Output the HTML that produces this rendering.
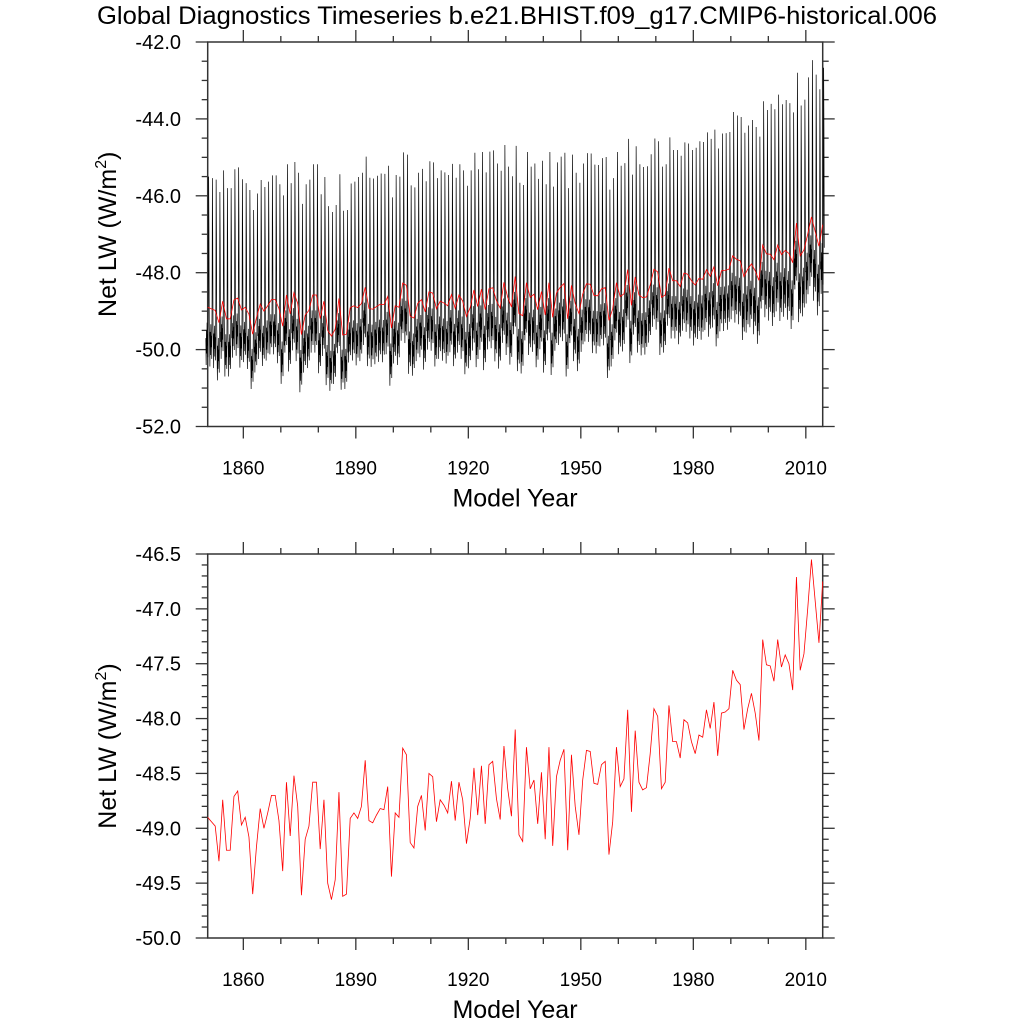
<!DOCTYPE html>
<html><head><meta charset="utf-8"><style>
body{margin:0;background:#fff}
svg text{font-family:"Liberation Sans",sans-serif;fill:#000}
</style></head><body>
<svg id="chart" width="1024" height="1024" viewBox="0 0 1024 1024" xmlns="http://www.w3.org/2000/svg">
<text x="517" y="24" font-size="25" text-anchor="middle" textLength="840" lengthAdjust="spacingAndGlyphs">Global Diagnostics Timeseries b.e21.BHIST.f09_g17.CMIP6-historical.006</text>
<g id="top"></g>
<g id="bot"></g>
</svg>
<script>
// Annual mean Net LW (W/m2), 1850..2014
const years = [];
for (let y = 1850; y <= 2014; y++) years.push(y);
const annualLW = [
-48.9,-48.94,-48.98,-49.3,-48.74,-49.2,-49.2,-48.71,-48.66,-48.97,
-48.9,-49.08,-49.6,-49.17,-48.82,-49.0,-48.86,-48.7,-48.7,-48.93,
-49.39,-48.58,-49.07,-48.52,-48.8,-49.61,-49.1,-48.98,-48.58,-48.58,
-49.19,-48.74,-49.5,-49.65,-49.47,-48.67,-49.62,-49.6,-48.91,-48.86,
-48.91,-48.8,-48.38,-48.93,-48.95,-48.88,-48.82,-48.83,-48.62,-49.44,
-48.86,-48.9,-48.27,-48.33,-49.13,-49.18,-48.8,-48.7,-49.02,-48.5,
-48.53,-48.94,-48.74,-48.79,-48.86,-48.57,-48.93,-48.58,-48.74,-49.14,
-48.91,-48.45,-48.88,-48.43,-48.96,-48.42,-48.39,-48.73,-48.92,-48.25,
-48.64,-48.89,-48.1,-49.06,-49.12,-48.26,-48.64,-48.56,-48.96,-48.49,
-49.1,-48.26,-49.16,-48.53,-48.38,-48.28,-49.2,-48.33,-48.8,-49.06,
-48.56,-48.29,-48.3,-48.59,-48.6,-48.42,-48.39,-49.24,-48.94,-48.26,
-48.62,-48.55,-47.92,-48.85,-48.11,-48.58,-48.65,-48.63,-48.32,-47.91,
-47.98,-48.64,-48.58,-47.88,-48.21,-48.21,-48.36,-48.01,-48.04,-48.21,
-48.32,-48.15,-48.17,-47.92,-48.09,-47.85,-48.34,-47.95,-47.94,-47.91,
-47.56,-47.65,-47.69,-48.1,-47.91,-47.77,-47.95,-48.2,-47.28,-47.51,
-47.52,-47.66,-47.28,-47.53,-47.42,-47.5,-47.74,-46.71,-47.56,-47.41,
-47.0,-46.55,-46.93,-47.31,-46.75];
// Monthly seasonal-cycle anomaly (Jan..Dec)
const seasonalAnom = [-0.8,-1.5,-0.6,-1.2,-0.4,-1.0,-0.7,-1.3,0.2,3.4,2.0,-0.5];
// Per-decade amplitude factor of the seasonal cycle (1850s..2010s)
const decadeAmp = [1.0,0.95,1.0,0.95,1.0,1.0,1.0,1.05,1.0,1.0,1.0,1.0,1.0,1.05,1.1,1.15,1.2];
const xTicks = [1860,1890,1920,1950,1980,2010];
const topYTicks = [-42,-44,-46,-48,-50,-52];
const botYTicks = [-46.5,-47,-47.5,-48,-48.5,-49,-49.5,-50];

const NS = "http://www.w3.org/2000/svg";
const L = 207.7, R = 822.7, X0 = 1850.5, X1 = 2014.5;
function xs(t){ return L + (t - X0) / (X1 - X0) * (R - L); }
function mk(parent, tag, attrs){
  const e = document.createElementNS(NS, tag);
  for (const k in attrs) e.setAttribute(k, attrs[k]);
  parent.appendChild(e); return e;
}
function panel(g, T, B, ymax, ymin, yticks, minorStep, prefix){
  const ys = v => T + (ymax - v) / (ymax - ymin) * (B - T);
  const fr = mk(g, 'rect', {x:L, y:T, width:R-L, height:B-T, fill:'none', stroke:'#333', 'stroke-width':1.5});
  
  
  for (let t = 1860; t <= 2010; t += 10){
    const major = xTicks.includes(t), len = major ? 12 : 6, x = xs(t);
    mk(g,'line',{x1:x,x2:x,y1:T,y2:T-len,stroke:'#333','stroke-width':1.3});
    mk(g,'line',{x1:x,x2:x,y1:B,y2:B+len,stroke:'#333','stroke-width':1.3});
  }
  xTicks.forEach(t => {
    const tx = mk(g,'text',{x:xs(t), y:B+48, 'font-size':19, 'text-anchor':'middle'});
    tx.textContent = t;
    
    
  });
  const n = Math.round((ymax - ymin) / minorStep);
  for (let i = 0; i <= n; i++){
    const v = ymax - i * minorStep, y = ys(v);
    const major = yticks.some(m => Math.abs(m - v) < 1e-6), len = major ? 12 : 6;
    mk(g,'line',{x1:L,x2:L-len,y1:y,y2:y,stroke:'#333','stroke-width':1.3});
    mk(g,'line',{x1:R,x2:R+len,y1:y,y2:y,stroke:'#333','stroke-width':1.3});
  }
  yticks.forEach(v => {
    const tx = mk(g,'text',{x:181, y:ys(v)+7, 'font-size':20, 'text-anchor':'end'});
    tx.textContent = v.toFixed(1);
    
    
  });
  const xt = mk(g,'text',{x:515, y:B+80, 'font-size':25, 'text-anchor':'middle'});
  xt.textContent = 'Model Year';
  
  
  const cy = (T+B)/2;
  const yt = mk(g,'text',{x:0, y:0, 'font-size':25, 'text-anchor':'middle', transform:`translate(116,${cy}) rotate(-90)`});
  yt.innerHTML = 'Net LW (W/m<tspan font-size="16" dy="-10">2</tspan><tspan dy="10">)</tspan>';
  
  
  return ys;
}
const gT = document.getElementById('top');
const ysT = panel(gT, 42, 426.5, -42, -52, topYTicks, 0.5, 'top');
let dM = '';
years.forEach((yr, i) => {
  const amp = decadeAmp[Math.floor((yr - 1850) / 10)];
  seasonalAnom.forEach((a, m) => {
    const v = annualLW[i] + a * amp;
    const x = xs(yr + m / 12), y = ysT(v);
    dM += (dM ? 'L' : 'M') + x.toFixed(2) + ' ' + y.toFixed(2);
  });
});
const mLine = mk(gT,'path',{d:dM, fill:'none', stroke:'#000', 'stroke-width':0.7});


let dA = '';
years.forEach((yr, i) => { dA += (i ? 'L' : 'M') + xs(yr + 0.5).toFixed(2) + ' ' + ysT(annualLW[i]).toFixed(2); });
const aLineT = mk(gT,'path',{d:dA, fill:'none', stroke:'#ff0000', 'stroke-width':0.8});


const gB = document.getElementById('bot');
const ysB = panel(gB, 554, 938, -46.5, -50, botYTicks, 0.1, 'bottom');
let dB = '';
years.forEach((yr, i) => { dB += (i ? 'L' : 'M') + xs(yr + 0.5).toFixed(2) + ' ' + ysB(annualLW[i]).toFixed(2); });
const aLineB = mk(gB,'path',{d:dB, fill:'none', stroke:'#ff0000', 'stroke-width':0.8});


</script>
</body></html>
